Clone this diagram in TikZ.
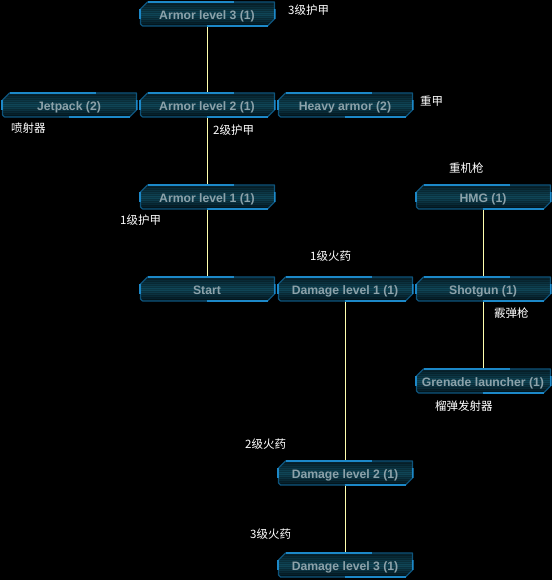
\documentclass[tikz,border=0pt]{standalone}
\usepackage{fontspec}
\setmainfont{Liberation Sans}
\newfontfamily\cjk{Noto Sans CJK SC}
\definecolor{boxedge}{RGB}{14,84,124}
\definecolor{boxglow}{RGB}{28,136,200}
\definecolor{boxtop}{RGB}{6,32,42}
\definecolor{boxmid}{RGB}{16,72,90}
\definecolor{boxbot}{RGB}{3,20,28}
\definecolor{boxtext}{RGB}{140,162,170}
\definecolor{linkcol}{RGB}{255,255,175}

\tikzset{
  techbox/.style={
    rectangle, minimum width=137pt, minimum height=26pt, inner sep=0pt,
    text height=11pt, text depth=0pt,
    font=\bfseries\fontsize{12.2}{12}\selectfont, text=boxtext,
    path picture={
      % corner points of the panel outline, relative to the node's box
      \coordinate (pA) at ([xshift=9pt,yshift=-1pt]path picture bounding box.north west);
      \coordinate (pB) at ([xshift=-1pt,yshift=-1pt]path picture bounding box.north east);
      \coordinate (pC) at ([xshift=-1pt,yshift=8pt]path picture bounding box.south east);
      \coordinate (pD) at ([xshift=-8pt,yshift=1pt]path picture bounding box.south east);
      \coordinate (pE) at ([xshift=4pt,yshift=1pt]path picture bounding box.south west);
      \coordinate (pF) at ([xshift=2pt,yshift=3pt]path picture bounding box.south west);
      \coordinate (pG) at ([xshift=2pt,yshift=-8pt]path picture bounding box.north west);
      \fill[top color=boxtop, bottom color=boxbot, middle color=boxmid]
        (pA) -- (pB) -- (pC) -- (pD) -- (pE) -- (pF) -- (pG) -- cycle;
      \begin{scope}
        \clip (pA) -- (pB) -- (pC) -- (pD) -- (pE) -- (pF) -- (pG) -- cycle;
        \foreach \k in {-12,-10,...,12}
          \draw[black, opacity=0.22, line width=0.8pt]
            ([yshift=\k pt]path picture bounding box.west) --
            ([yshift=\k pt]path picture bounding box.east);
      \end{scope}
      \draw[boxedge, line width=1.2pt, line join=round]
        (pA) -- (pB) -- (pC) -- (pD) -- (pE) -- (pF) -- (pG) -- cycle;
      % brighter trims along the top and bottom edges
      \draw[boxglow, line width=1.6pt]
        (pA) -- ([xshift=95pt,yshift=-1pt]path picture bounding box.north west);
      \draw[boxglow, line width=1.6pt]
        ([xshift=68pt,yshift=1pt]path picture bounding box.south west) -- (pD);
      % side tabs
      \draw[boxglow, line width=2pt]
        ([xshift=1pt,yshift=5pt]path picture bounding box.west) --
        ([xshift=1pt,yshift=-5pt]path picture bounding box.west);
      \draw[boxglow, line width=2pt]
        ([xshift=-1pt,yshift=5pt]path picture bounding box.east) --
        ([xshift=-1pt,yshift=-5pt]path picture bounding box.east);
    }
  },
  note/.style={anchor=west, text=white, inner sep=0pt,
    font=\cjk\fontsize{11.5}{12}\selectfont},
  linkline/.style={draw=linkcol, line width=0.9pt}
}

\begin{document}
\begin{tikzpicture}[x=1pt,y=-1pt]
  \useasboundingbox[fill=black] (0,0) rectangle (552,580);

  % upgrade panels
  \node[techbox] (a3)    at (207,14)  {Armor level 3 (1)};
  \node[techbox] (jet)   at (69,105)  {Jetpack (2)};
  \node[techbox] (a2)    at (207,105) {Armor level 2 (1)};
  \node[techbox] (heavy) at (345,105) {Heavy armor (2)};
  \node[techbox] (a1)    at (207,197) {Armor level 1 (1)};
  \node[techbox] (hmg)   at (483,197) {HMG (1)};
  \node[techbox] (start) at (207,289) {Start};
  \node[techbox] (d1)    at (345,289) {Damage level 1 (1)};
  \node[techbox] (shot)  at (483,289) {Shotgun (1)};
  \node[techbox] (gren)  at (483,381) {Grenade launcher (1)};
  \node[techbox] (d2)    at (345,473) {Damage level 2 (1)};
  \node[techbox] (d3)    at (345,565) {Damage level 3 (1)};

  % links between panels
  \draw[linkline] (a3.south) -- (a2.north);
  \draw[linkline] (a2.south) -- (a1.north);
  \draw[linkline] (a1.south) -- (start.north);
  \draw[linkline] (d1.south) -- (d2.north);
  \draw[linkline] (d2.south) -- (d3.north);
  \draw[linkline] (hmg.south) -- (shot.north);
  \draw[linkline] (shot.south) -- (gren.north);

  % captions
  \node[note] (n1)  at (288,10)  {3级护甲};
  \node[note] (n2)  at (11,128)  {喷射器};
  \node[note] (n3)  at (420,101) {重甲};
  \node[note] (n4)  at (213,130) {2级护甲};
  \node[note] (n5)  at (449,168) {重机枪};
  \node[note] (n6)  at (120,220) {1级护甲};
  \node[note] (n7)  at (310,256) {1级火药};
  \node[note] (n8)  at (494,313) {霰弹枪};
  \node[note] (n9)  at (435,406) {榴弹发射器};
  \node[note] (n10) at (245,444) {2级火药};
  \node[note] (n11) at (250,534) {3级火药};
\end{tikzpicture}
\end{document}
